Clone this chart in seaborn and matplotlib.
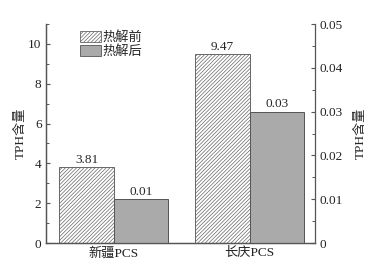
import matplotlib
matplotlib.use("Agg")
import matplotlib.pyplot as plt
import seaborn as sns
import pandas as pd
import numpy as np
from matplotlib.patches import Patch
from matplotlib.ticker import MultipleLocator

categories = ["新疆PCS", "长庆PCS"]
series = ["热解前", "热解后"]
before_vals = [3.81, 9.47]
after_vals = [0.01, 0.03]
before_labels = ["3.81", "9.47"]
after_labels = ["0.01", "0.03"]

FS = 9.5
sns.set_theme(style="ticks")
plt.rcParams["font.family"] = ["Liberation Serif", "Noto Sans CJK SC"]
plt.rcParams["hatch.linewidth"] = 0.5
plt.rcParams["font.size"] = FS

df = pd.DataFrame({
    "cat": categories * 2,
    "series": [series[0]] * 2 + [series[1]] * 2,
    "v1": before_vals + [np.nan, np.nan],
    "v2": [np.nan, np.nan] + after_vals,
})

fig = plt.figure(figsize=(3.84, 2.66), dpi=100)
ax1 = fig.add_axes([45.7 / 384, 1 - 243 / 266, (315 - 45.7) / 384, (243 - 24) / 266])
ax2 = ax1.twinx()

sns.barplot(data=df, x="cat", y="v1", hue="series", hue_order=series, order=categories,
            ax=ax1, width=0.8, palette=["white", "#aaaaaa"], edgecolor="#555555",
            linewidth=0.7, legend=False, errorbar=None)
sns.barplot(data=df, x="cat", y="v2", hue="series", hue_order=series, order=categories,
            ax=ax2, width=0.8, palette=["white", "#aaaaaa"], edgecolor="#555555",
            linewidth=0.7, legend=False, errorbar=None)

for p in ax1.patches:
    p.set_hatch("/////////")
    p.set_edgecolor("#666666")

ax1.bar_label(ax1.containers[0], labels=before_labels, padding=1, fontsize=FS)
ax2.bar_label(ax2.containers[1], labels=after_labels, padding=1, fontsize=FS)

ax1.set_xlim(-0.5, 1.48)
ax1.set_ylim(0, 11)
ax2.set_ylim(0, 0.05)
ax1.yaxis.set_major_locator(MultipleLocator(2))
ax1.yaxis.set_minor_locator(MultipleLocator(1))
ax2.set_yticks([0, 0.01, 0.02, 0.03, 0.04, 0.05])
ax2.set_yticklabels(["0", "0.01", "0.02", "0.03", "0.04", "0.05"])
ax2.yaxis.set_minor_locator(MultipleLocator(0.005))

ax1.set_xlabel("")
ax1.set_ylabel("TPH含量", fontsize=FS, labelpad=1)
ax2.set_ylabel("TPH含量", fontsize=FS, rotation=90, labelpad=9)
ax2.set_xlabel("")

for ax in (ax1, ax2):
    ax.spines["top"].set_visible(False)
    for s in ax.spines.values():
        s.set_linewidth(0.9)
        s.set_color("#555555")
    ax.tick_params(axis="y", which="major", direction="in", length=3, width=0.8,
                   labelsize=FS, colors="#555555", labelcolor="#222222", pad=3)
    ax.tick_params(axis="y", which="minor", direction="in", length=2, width=0.7,
                   colors="#555555")
ax1.tick_params(axis="x", length=0, labelsize=FS, pad=3, labelcolor="#222222")
ax1.spines["right"].set_visible(False)

handles = [Patch(facecolor="white", edgecolor="#666666", hatch="/////////", linewidth=0.6),
           Patch(facecolor="#aaaaaa", edgecolor="#555555", linewidth=0.6)]
ax2.legend(handles, series, loc="upper left", bbox_to_anchor=(0.1, 1.0), frameon=False,
           fontsize=FS, handlelength=1.6, handleheight=0.9, handletextpad=0.1,
           labelspacing=0.05, borderaxespad=0.15)

fig.savefig("out.png", dpi=100)
